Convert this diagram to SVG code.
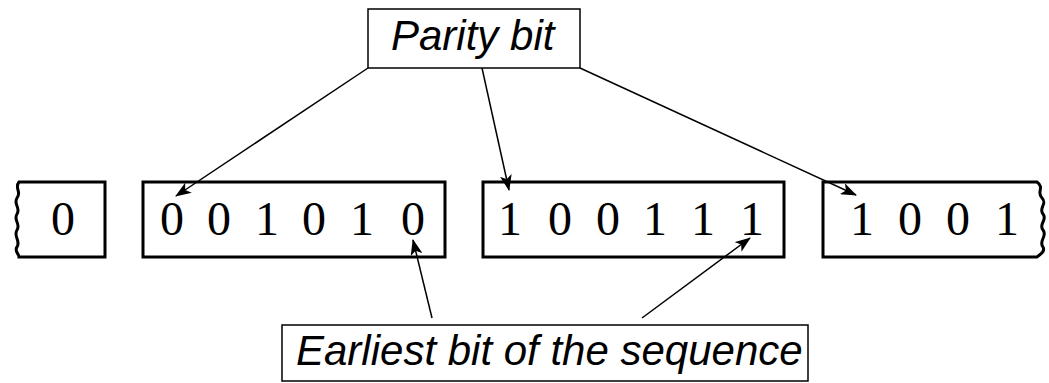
<svg xmlns="http://www.w3.org/2000/svg" width="1049" height="383" viewBox="0 0 1049 383">
<defs>
<style>
.frame{fill:#fff;stroke:#000;stroke-width:3}
.label{fill:#fff;stroke:#000;stroke-width:1.5}
.bits{font-family:"Liberation Serif","Times New Roman",serif;font-size:48px;fill:#000;text-anchor:middle}
.lbl{font-family:"Liberation Sans",Arial,sans-serif;font-style:italic;font-size:42px;fill:#000}
.conn{stroke:#000;stroke-width:1.5;fill:none;marker-end:url(#ah)}
</style>
<marker id="ah" viewBox="0 0 16 12" refX="15" refY="6" markerWidth="16" markerHeight="12" markerUnits="userSpaceOnUse" orient="auto">
<path d="M0,0 L16,6 L0,12 L4,6 Z" fill="#000"/>
</marker>
</defs>
<g id="box0">
<path class="frame" d="M105,182 L19,182 C14,188 22,192 17,198 C13,204 21,208 17,214 C13,220 21,224 17,230 C13,236 21,241 17,247 C14,251 19,254 19,257 L105,257 Z"/>
<text class="bits" x="63" y="235">0</text>
</g>
<g id="box1">
<rect class="frame" x="143" y="182" width="302" height="75"/>
<text class="bits" x="172 219 267 314 362 413" y="235">001010</text>
</g>
<g id="box2">
<rect class="frame" x="483" y="182" width="301" height="75"/>
<text class="bits" x="510 560 608 655 703 752" y="235">100111</text>
</g>
<g id="box3">
<path class="frame" d="M823,182 L1037,182 C1045,188 1036,192 1042,198 C1048,204 1038,208 1043,214 C1048,220 1038,224 1043,230 C1048,236 1038,241 1043,247 C1046,252 1039,255 1037,257 L823,257 Z"/>
<text class="bits" x="862 910 958 1007" y="235">1001</text>
</g>
<g id="parity">
<rect class="label" x="368" y="9" width="212" height="59"/>
<text class="lbl" x="391" y="50">Parity bit</text>
</g>
<g id="earliest">
<rect class="label" x="282" y="325" width="526" height="56"/>
<text class="lbl" x="296" y="365">Earliest bit of the sequence</text>
</g>
<g id="connectors">
<line class="conn" x1="368" y1="68" x2="176" y2="196"/>
<line class="conn" x1="482" y1="68" x2="509" y2="190"/>
<line class="conn" x1="580" y1="68" x2="856" y2="195"/>
<line class="conn" x1="432" y1="318" x2="413" y2="240"/>
<line class="conn" x1="642" y1="318" x2="750" y2="238"/>
</g>
</svg>
